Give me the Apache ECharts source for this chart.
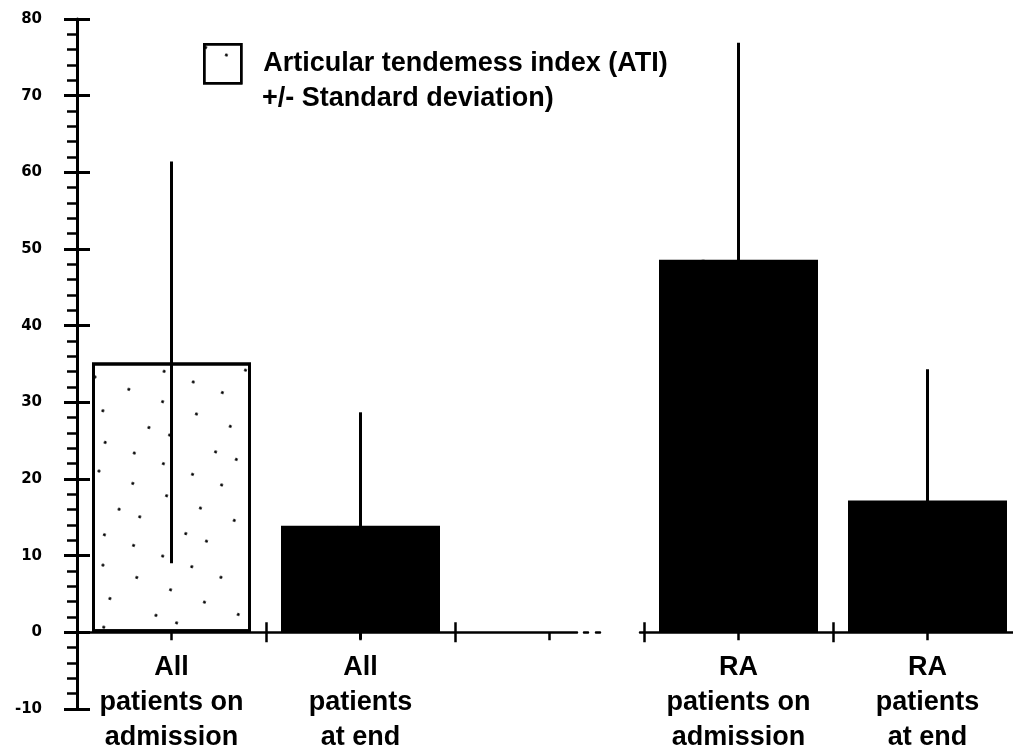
<!DOCTYPE html>
<html>
<head>
<meta charset="utf-8">
<script src="https://cdn.jsdelivr.net/npm/echarts@6/dist/echarts.min.js"></script>
<style>
  html, body { margin: 0; padding: 0; background: #fff; }
  #chart { width: 1013px; height: 752px; }
</style>
</head>
<body>
<div id="chart"></div>
<script>
// Groups on the x axis (the empty slot separates "All" from "RA")
const categories = [
  'All\npatients on\nadmission',
  'All\npatients\nat end',
  '',
  'RA\npatients on\nadmission',
  'RA\npatients\nat end'
];
// Mean articular tenderness index per group
const atiMean = [35.2, 13.9, '-', 48.6, 17.2];
// Standard deviation per group
const atiSD = [26.2, 14.8, null, 28.3, 17.1];

const seriesName = 'Articular tendemess index (ATI)';
const sdNote = '+/- Standard deviation)';

// Value axis range
const yMin = -10, yMax = 80, yStep = 10;

const textFont = '"Liberation Sans", Arial, sans-serif';

const errorData = categories
  .map((c, i) => (atiSD[i] == null ? null : [i, atiMean[i], atiSD[i]]))
  .filter(Boolean);

const chart = echarts.init(document.getElementById('chart'), null, { renderer: 'canvas' });

// sparse stipple used inside the open bar
const stipple = {
  symbol: 'circle',
  symbolSize: 0.6,
  color: '#000',
  dashArrayX: [[5, 31], [5, 17, 5, 44], [5, 26]],
  dashArrayY: [5, 24],
  rotation: 0.35
};

const tickStyle = { color: '#000', width: 2.5 };

function categoryAxis(extra) {
  return Object.assign({
    type: 'category',
    data: categories,
    gridIndex: 0,
    position: 'bottom',
    boundaryGap: true,
    splitLine: { show: false }
  }, extra);
}

const option = {
  backgroundColor: '#fff',
  animation: false,
  grid: { left: 77, width: 945, top: 19, bottom: 43, containLabel: false, outerBoundsMode: 'none' },
  title: {
    text: sdNote,
    left: 262,
    top: 84,
    padding: 0,
    textStyle: {
      fontFamily: textFont,
      fontWeight: 'bold',
      fontSize: 27,
      lineHeight: 30,
      color: '#000'
    }
  },
  legend: {
    data: [seriesName],
    left: 203,
    top: 43,
    padding: 0,
    icon: 'rect',
    itemWidth: 37,
    itemHeight: 39,
    selectedMode: false,
    itemStyle: { color: '#fff', borderColor: '#000', borderWidth: 2.5 },
    textStyle: {
      fontFamily: textFont,
      fontWeight: 'bold',
      fontSize: 27,
      color: '#000',
      padding: [0, 0, 6, 17]
    }
  },
  xAxis: [
    categoryAxis({
      axisLine: {
        onZero: true,
        onZeroAxisIndex: 0,
        lineStyle: { color: '#000', width: 2.5, type: [500, 7, 4, 8, 4, 40, 600] }
      },
      axisTick: { show: true, alignWithLabel: true, interval: 0, length: 8, lineStyle: tickStyle },
      axisLabel: {
        interval: 0,
        margin: -59,
        color: '#000',
        fontFamily: textFont,
        fontWeight: 'bold',
        fontSize: 27,
        lineHeight: 35
      }
    }),
    categoryAxis({
      axisLine: { show: false, onZero: true, onZeroAxisIndex: 0 },
      axisTick: { show: true, alignWithLabel: false, interval: 0, inside: true, length: 10, lineStyle: tickStyle },
      axisLabel: { show: false }
    }),
    categoryAxis({
      axisLine: { show: false, onZero: true, onZeroAxisIndex: 0 },
      axisTick: { show: true, alignWithLabel: false, interval: 0, inside: false, length: 10, lineStyle: tickStyle },
      axisLabel: { show: false }
    })
  ],
  yAxis: [
    {
      type: 'value',
      position: 'left',
      min: yMin,
      max: yMax,
      interval: yStep,
      axisLine: { show: true, onZero: false, lineStyle: { color: '#000', width: 3 } },
      axisTick: { show: true, length: 13, lineStyle: { color: '#000', width: 3 } },
      minorTick: { show: true, splitNumber: 5, length: 10, lineStyle: tickStyle },
      axisLabel: {
        margin: 35,
        color: '#000',
        fontFamily: '"DejaVu Sans", sans-serif',
        fontWeight: 'bold',
        fontSize: 15
      },
      splitLine: { show: false },
      minorSplitLine: { show: false }
    },
    {
      type: 'value',
      position: 'left',
      min: yMin,
      max: yMax,
      interval: yStep,
      axisLine: { show: false, onZero: false },
      axisTick: { show: true, inside: true, length: 13, lineStyle: { color: '#000', width: 3 } },
      axisLabel: { show: false },
      splitLine: { show: false }
    }
  ],
  series: [
    {
      name: seriesName,
      type: 'bar',
      xAxisIndex: 0,
      yAxisIndex: 0,
      barWidth: 159,
      itemStyle: { color: '#fff', borderColor: '#000', borderWidth: 3, decal: stipple },
      data: atiMean.map((v, i) =>
        i === 0 ? { value: v } : { value: v, itemStyle: { color: '#000', borderColor: '#000', borderWidth: 0 } }
      ),
      z: 2
    },
    {
      name: 'sd',
      type: 'custom',
      xAxisIndex: 0,
      yAxisIndex: 0,
      z: 5,
      data: errorData,
      renderItem: (params, api) => {
        const x = api.value(0);
        const m = api.value(1);
        const s = api.value(2);
        const hi = api.coord([x, m + s]);
        const lo = api.coord([x, m - s]);
        return {
          type: 'line',
          shape: { x1: hi[0], y1: hi[1], x2: lo[0], y2: lo[1] },
          style: { stroke: '#000', lineWidth: 3 }
        };
      }
    }
  ]
};

chart.setOption(option);
</script>
</body>
</html>
